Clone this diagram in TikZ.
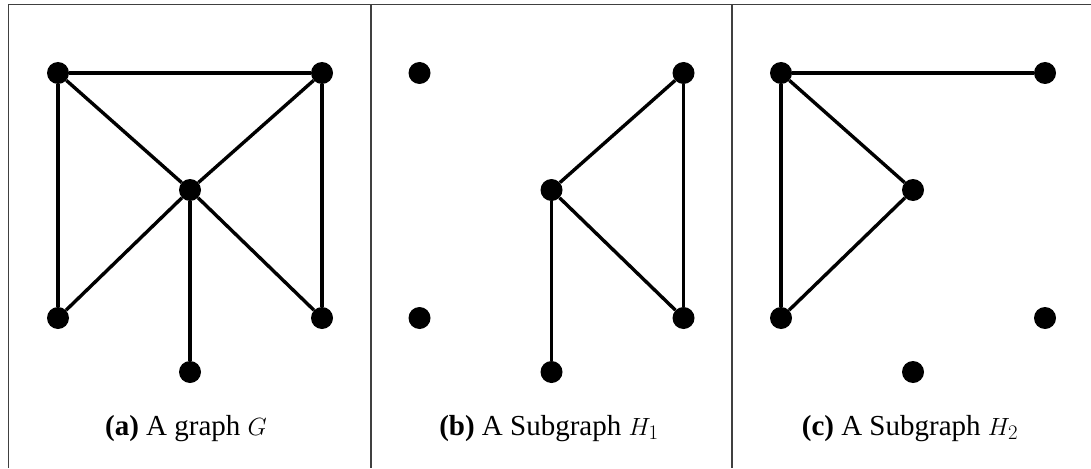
\documentclass[tikz,border=0pt]{standalone}
\usepackage{fontspec}
\setmainfont{Liberation Serif}
\usepackage{tikz}
\usetikzlibrary{positioning}

\begin{document}
\begin{tikzpicture}[
    x=1pt, y=-1pt,
    dot/.style={circle, fill=black, inner sep=0pt, minimum size=22pt},
    edge/.style={line width=3.4pt},
    frame/.style={line width=1.8pt, draw=black!75},
    caption/.style={anchor=base, font=\fontsize{29}{34}\selectfont}
]
\useasboundingbox (0,0) rectangle (1091,468);
% panel frame
\draw[frame] (8.5,468) -- (8.5,4.5) -- (1091,4.5);
\draw[frame, line width=1.2pt] (371,4.5) -- (371,468);
\draw[frame, line width=1.2pt] (732,4.5) -- (732,468);
% six vertices in each panel
\foreach \p/\dx in {a/0, b/361.5, c/723} {
    \node[dot] (\p TL) at (58+\dx,73) {};
    \node[dot] (\p TR) at (322+\dx,73) {};
    \node[dot] (\p C)  at (190+\dx,190) {};
    \node[dot] (\p BL) at (58+\dx,318) {};
    \node[dot] (\p BR) at (322+\dx,318) {};
    \node[dot] (\p B)  at (190+\dx,372) {};
}
% (a) the graph G
\draw[edge] (aTL) -- (aTR);
\draw[edge] (aTL) -- (aBL);
\draw[edge] (aTR) -- (aBR);
\draw[edge] (aTL) -- (aC);
\draw[edge] (aTR) -- (aC);
\draw[edge] (aBL) -- (aC);
\draw[edge] (aBR) -- (aC);
\draw[edge] (aB) -- (aC);
% (b) subgraph H1
\draw[edge] (bTR) -- (bC);
\draw[edge] (bTR) -- (bBR);
\draw[edge] (bBR) -- (bC);
\draw[edge] (bB) -- (bC);
% (c) subgraph H2
\draw[edge] (cTL) -- (cTR);
\draw[edge] (cTL) -- (cBL);
\draw[edge] (cTL) -- (cC);
\draw[edge] (cBL) -- (cC);
% captions
\node[caption] (capa) at (186,435) {\textbf{(a)} A graph $G$};
\node[caption] (capb) at (549,435) {\textbf{(b)} A Subgraph $H_1$};
\node[caption] (capc) at (910,435) {\textbf{(c)} A Subgraph $H_2$};
\end{tikzpicture}
\end{document}
